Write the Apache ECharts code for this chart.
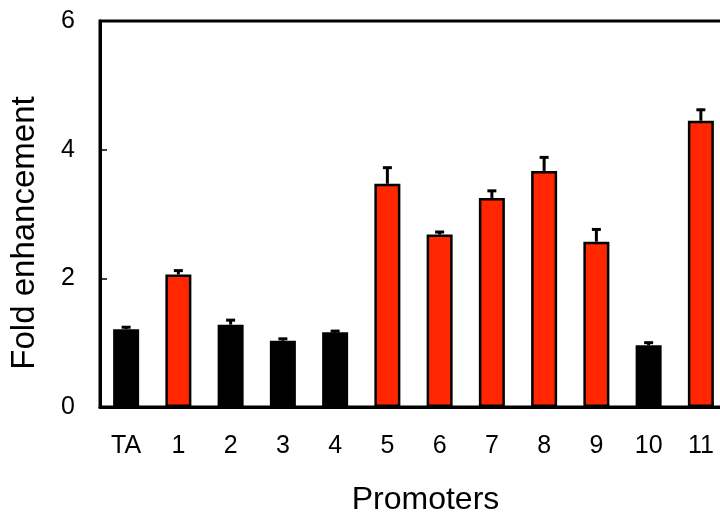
<!DOCTYPE html>
<html>
<head>
<meta charset="utf-8">
<script src="https://cdn.jsdelivr.net/npm/echarts@6/dist/echarts.min.js"></script>
<style>
  html, body { margin: 0; padding: 0; background: #fff; }
  #chart { width: 720px; height: 518px; }
</style>
</head>
<body>
<div id="chart"></div>
<script>
// Promoter activity: mean fold enhancement with upper error bars
const categories = ['TA', '1', '2', '3', '4', '5', '6', '7', '8', '9', '10', '11'];
const foldMeans  = [1.21, 2.06, 1.28, 1.03, 1.16, 3.47, 2.68, 3.25, 3.67, 2.57, 0.96, 4.45];
const foldErrors = [0.03, 0.06, 0.07, 0.03, 0.02, 0.25, 0.04, 0.11, 0.21, 0.19, 0.04, 0.17];
// promoters shown in red are the enhanced ones; the rest are drawn black
const enhanced   = [false, true, false, false, false, true, true, true, true, true, false, true];
const yTicks     = [0, 2, 4, 6];

const RED = '#ff2600';
const FONT = '"Liberation Sans", Arial, sans-serif';

const barData = foldMeans.map((v, i) => ({
  value: v,
  itemStyle: enhanced[i]
    ? { color: RED, borderColor: '#000', borderWidth: 2.5 }
    : { color: '#000', borderWidth: 0 }
}));

const errorData = foldMeans.map((v, i) => [i, v, v + foldErrors[i]]);

const chart = echarts.init(document.getElementById('chart'), null, { renderer: 'canvas' });

chart.setOption({
  animation: false,
  backgroundColor: '#fff',
  grid: {
    left: 100, top: 21, width: 627, bottom: 111,
    outerBoundsMode: 'none',
    containLabel: false,
    show: true, borderColor: '#000', borderWidth: 3, backgroundColor: 'transparent'
  },
  xAxis: {
    type: 'category',
    data: categories,
    boundaryGap: true,
    axisLine: { lineStyle: { color: '#000', width: 3 } },
    axisTick: { inside: true, length: 7, lineStyle: { color: '#000', width: 1.5 } },
    axisLabel: { color: '#000', fontFamily: FONT, fontSize: 25, margin: 27 },
    name: 'Promoters',
    nameLocation: 'middle',
    nameGap: 77,
    nameTextStyle: { color: '#000', fontFamily: FONT, fontSize: 32, padding: [0, 0, 0, 24] }
  },
  yAxis: {
    type: 'value',
    min: yTicks[0],
    max: yTicks[yTicks.length - 1],
    interval: 2,
    splitLine: { show: false },
    axisLine: { show: true, lineStyle: { color: '#000', width: 3 } },
    axisTick: { show: true, inside: true, length: 7, lineStyle: { color: '#000', width: 1.5 } },
    axisLabel: { color: '#000', fontFamily: FONT, fontSize: 25, margin: 25 },
    name: 'Fold enhancement',
    nameLocation: 'middle',
    nameGap: 59,
    nameTextStyle: { color: '#000', fontFamily: FONT, fontSize: 33, padding: [0, 38, 0, 0] }
  },
  series: [
    {
      type: 'bar',
      data: barData,
      barWidth: 26,
      z: 2
    },
    {
      type: 'custom',
      data: errorData,
      z: 3,
      renderItem: function (params, api) {
        const base = api.coord([api.value(0), api.value(1)]);
        const top = api.coord([api.value(0), api.value(2)]);
        const x = base[0];
        const cap = 4.5;
        return {
          type: 'group',
          children: [
            {
              type: 'line',
              shape: { x1: x, y1: base[1], x2: x, y2: top[1] },
              style: { stroke: '#000', lineWidth: 3 }
            },
            {
              type: 'line',
              shape: { x1: x - cap, y1: top[1], x2: x + cap, y2: top[1] },
              style: { stroke: '#000', lineWidth: 3 }
            }
          ]
        };
      }
    }
  ]
});
</script>
</body>
</html>
